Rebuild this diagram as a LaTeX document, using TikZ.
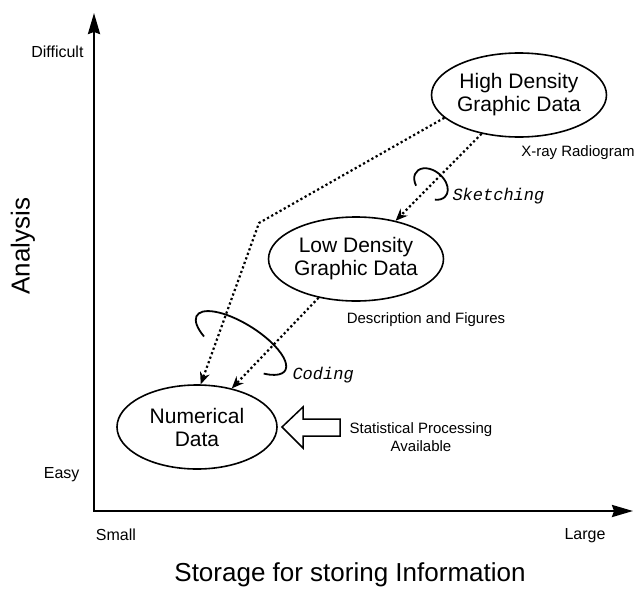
\documentclass[tikz,border=0pt]{standalone}
\usepackage{fontspec}
\setmainfont{Liberation Sans}
\setmonofont{Liberation Mono}
\usetikzlibrary{shapes.geometric, arrows.meta, positioning}

\begin{document}
\begin{tikzpicture}[
    x=1pt, y=-1pt,
    stage/.style={draw, ellipse, line width=1.6pt, minimum width=160pt, minimum height=84pt, inner sep=0pt, align=center, font=\fontsize{21}{23}\selectfont},
    axis/.style={line width=2.4pt, {Stealth[length=21pt, width=12pt, inset=2pt]}-{Stealth[length=21pt, width=12pt, inset=2pt]}},
    flow/.style={line width=2.2pt, dash pattern=on 2.2pt off 2.6pt, -{Stealth[length=12pt, width=10pt, inset=4pt]}},
    ring/.style={line width=1.8pt},
    note/.style={font=\fontsize{15}{18}\selectfont, align=center},
    tick/.style={font=\fontsize{16}{18}\selectfont},
    title/.style={font=\fontsize{26}{30}\selectfont},
    process/.style={font=\fontsize{17}{20}\selectfont\ttfamily\itshape}
]
\useasboundingbox (0,0) rectangle (640,589);

% Axes
\coordinate (O) at (94,511);
\coordinate (ytop) at (94,13);
\coordinate (xend) at (633,511);
\draw[axis] (ytop) -- (O) -- (xend);

\node[tick, anchor=east] (difficult) at (87,52) {Difficult};
\node[tick, anchor=east] (easy) at (83,475) {Easy};
\node[tick] (small) at (116,535) {Small};
\node[tick] (large) at (585,536) {Large};
\node[title, rotate=90] (analysis) at (23,246) {Analysis};
\node[title] (storage) at (350,575) {Storage for storing Information};

% Data kinds
\node[stage] (high) at (519,95) {High Density\\Graphic Data};
\node[stage] (low) at (356,259) {Low Density\\Graphic Data};
\node[stage] (num) at (197,427) {Numerical\\Data};

\node[note] (xray) at (578,153) {X-ray Radiogram};
\node[note] (desc) at (426,320) {Description and Figures};
\node[note] (stat) at (421,437) {Statistical Processing\\Available};

% Conversions
\coordinate (bend) at (259,223);
\draw[flow] (high.197) -- (bend) -- (num.85);
\draw[flow] (high.226) -- (low.44);
\draw[flow] (low.226) -- (num.48);

% Rings round the conversions
\begin{scope}[shift={(431,184)}, rotate=-40]
  \draw[ring] (123:19 and 13) arc[start angle=123, end angle=407, x radius=19, y radius=13];
\end{scope}
\begin{scope}[shift={(241,343)}, rotate=-32]
  \draw[ring] (132:52 and 19) arc[start angle=132, end angle=407, x radius=52, y radius=19];
\end{scope}
\node[process, anchor=west] (sketch) at (449,196) {Sketching};
\node[process, anchor=west] (coding) at (289,375) {Coding};

% Hollow arrow into numerical data
\draw[line width=1.5pt, line join=miter] (282,427) -- (303,407) -- (303,419) -- (340,419) -- (340,436) -- (303,436) -- (303,448) -- cycle;

\end{tikzpicture}
\end{document}
